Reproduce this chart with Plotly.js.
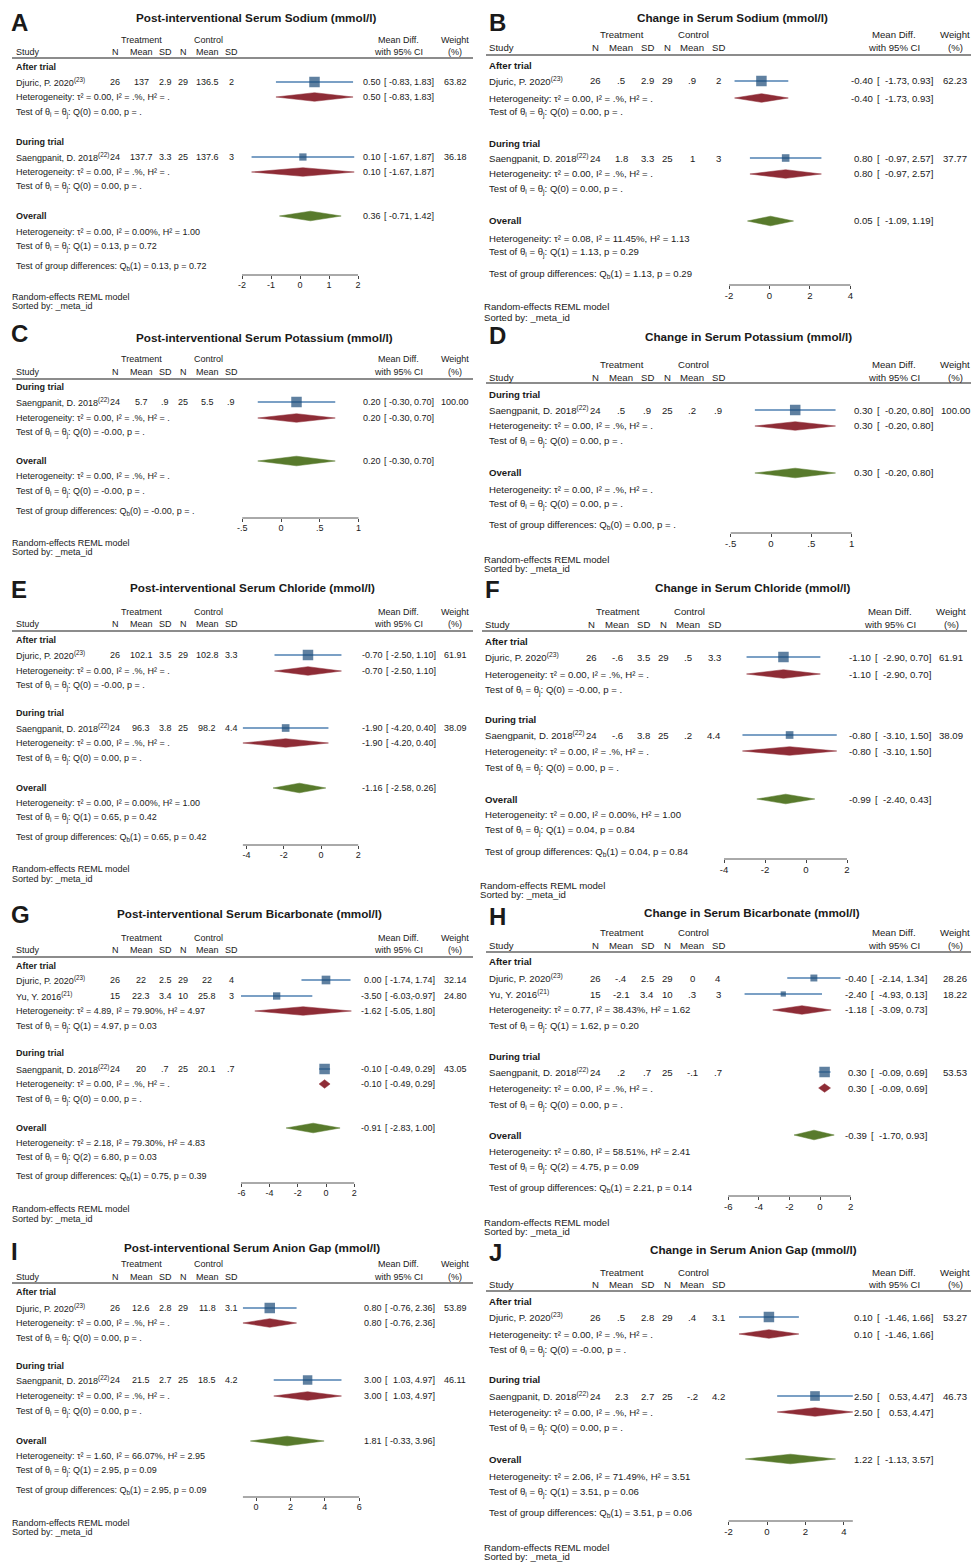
<!DOCTYPE html>
<html><head><meta charset="utf-8">
<script src="https://cdn.plot.ly/plotly-3.0.1.min.js"></script>
<style>html,body{margin:0;padding:0;background:#fff}</style>
</head><body><div id="chart" style="width:973px;height:1564px"></div>
<script>
// ---------------- DATA ----------------
const panelId = ['A','B','C','D','E','F','G','H','I','J'];
const panelTitle = [
  'Post-interventional Serum Sodium (mmol/l)',
  'Change in Serum Sodium (mmol/l)',
  'Post-interventional Serum Potassium (mmol/l)',
  'Change in Serum Potassium (mmol/l)',
  'Post-interventional Serum Chloride (mmol/l)',
  'Change in Serum Chloride (mmol/l)',
  'Post-interventional Serum Bicarbonate (mmol/l)',
  'Change in Serum Bicarbonate (mmol/l)',
  'Post-interventional Serum Anion Gap (mmol/l)',
  'Change in Serum Anion Gap (mmol/l)'
];
const panelTicks = [[-2,-1,0,1,2],[-2,0,2,4],[-0.5,0,0.5,1],[-0.5,0,0.5,1],[-4,-2,0,2],[-4,-2,0,2],[-6,-4,-2,0,2],[-6,-4,-2,0,2],[0,2,4,6],[-2,0,2,4]];

// study rows
const studyPanel = ['A','A','B','B','C','D','E','E','F','F','G','G','G','H','H','H','I','I','J','J'];
const studyGroup = ['After trial','During trial','After trial','During trial','During trial','During trial','After trial','During trial','After trial','During trial','After trial','After trial','During trial','After trial','After trial','During trial','After trial','During trial','After trial','During trial'];
const studyName = ['Djuric, P. 2020','Saengpanit, D. 2018','Djuric, P. 2020','Saengpanit, D. 2018','Saengpanit, D. 2018','Saengpanit, D. 2018','Djuric, P. 2020','Saengpanit, D. 2018','Djuric, P. 2020','Saengpanit, D. 2018','Djuric, P. 2020','Yu, Y. 2016','Saengpanit, D. 2018','Djuric, P. 2020','Yu, Y. 2016','Saengpanit, D. 2018','Djuric, P. 2020','Saengpanit, D. 2018','Djuric, P. 2020','Saengpanit, D. 2018'];
const studyRef = ['23','22','23','22','22','22','23','22','23','22','23','21','22','23','21','22','23','22','23','22'];
const trtN    = [26,24, 26,24, 24, 24, 26,24, 26,24, 26,15,24, 26,15,24, 26,24, 26,24];
const trtMean = [137,137.7, 0.5,1.8, 5.7, 0.5, 102.1,96.3, -0.6,-0.6, 22,22.3,20, -0.4,-2.1,0.2, 12.6,21.5, 0.5,2.3];
const trtSD   = [2.9,3.3, 2.9,3.3, 0.9, 0.9, 3.5,3.8, 3.5,3.8, 2.5,3.4,0.7, 2.5,3.4,0.7, 2.8,2.7, 2.8,2.7];
const ctlN    = [29,25, 29,25, 25, 25, 29,25, 29,25, 29,10,25, 29,10,25, 29,25, 29,25];
const ctlMean = [136.5,137.6, 0.9,1, 5.5, 0.2, 102.8,98.2, 0.5,0.2, 22,25.8,20.1, 0,0.3,-0.1, 11.8,18.5, 0.4,-0.2];
const ctlSD   = [2,3, 2,3, 0.9, 0.9, 3.3,4.4, 3.3,4.4, 4,3,0.7, 4,3,0.7, 3.1,4.2, 3.1,4.2];
const effEst  = [0.50,0.10, -0.40,0.80, 0.20, 0.30, -0.70,-1.90, -1.10,-0.80, 0.00,-3.50,-0.10, -0.40,-2.40,0.30, 0.80,3.00, 0.10,2.50];
const effLo   = [-0.83,-1.67, -1.73,-0.97, -0.30, -0.20, -2.50,-4.20, -2.90,-3.10, -1.74,-6.03,-0.49, -2.14,-4.93,-0.09, -0.76,1.03, -1.46,0.53];
const effHi   = [1.83,1.87, 0.93,2.57, 0.70, 0.80, 1.10,0.40, 0.70,1.50, 1.74,-0.97,0.29, 1.34,0.13,0.69, 2.36,4.97, 1.66,4.47];
const weight  = [63.82,36.18, 62.23,37.77, 100.00, 100.00, 61.91,38.09, 61.91,38.09, 32.14,24.80,43.05, 28.26,18.22,53.53, 53.89,46.11, 53.27,46.73];

// subgroup rows
const grpPanel = ['A','A','B','B','C','D','E','E','F','F','G','G','H','H','I','I','J','J'];
const grpName  = ['After trial','During trial','After trial','During trial','During trial','During trial','After trial','During trial','After trial','During trial','After trial','During trial','After trial','During trial','After trial','During trial','After trial','During trial'];
const grpEst   = [0.50,0.10, -0.40,0.80, 0.20, 0.30, -0.70,-1.90, -1.10,-0.80, -1.62,-0.10, -1.18,0.30, 0.80,3.00, 0.10,2.50];
const grpLo    = [-0.83,-1.67, -1.73,-0.97, -0.30, -0.20, -2.50,-4.20, -2.90,-3.10, -5.05,-0.49, -3.09,-0.09, -0.76,1.03, -1.46,0.53];
const grpHi    = [1.83,1.87, 0.93,2.57, 0.70, 0.80, 1.10,0.40, 0.70,1.50, 1.80,0.29, 0.73,0.69, 2.36,4.97, 1.66,4.47];
const grpTau2  = [0,0, 0,0, 0, 0, 0,0, 0,0, 4.89,0, 0.77,0, 0,0, 0,0];
const grpI2    = [null,null, null,null, null, null, null,null, null,null, 79.90,null, 38.43,null, null,null, null,null];
const grpH2    = [null,null, null,null, null, null, null,null, null,null, 4.97,null, 1.62,null, null,null, null,null];
const grpQdf   = [0,0, 0,0, 0, 0, 0,0, 0,0, 1,0, 1,0, 0,0, 0,0];
const grpQ     = [0,0, 0,0, -0, 0, -0,0, -0,0, 4.97,0, 1.62,0, 0,0, -0,0];
const grpP     = [null,null, null,null, null, null, null,null, null,null, 0.03,null, 0.20,null, null,null, null,null];

// overall rows (one per panel)
const ovEst  = [0.36, 0.05, 0.20, 0.30, -1.16, -0.99, -0.91, -0.39, 1.81, 1.22];
const ovLo   = [-0.71, -1.09, -0.30, -0.20, -2.58, -2.40, -2.83, -1.70, -0.33, -1.13];
const ovHi   = [1.42, 1.19, 0.70, 0.80, 0.26, 0.43, 1.00, 0.93, 3.96, 3.57];
const ovTau2 = [0.00, 0.08, 0.00, 0.00, 0.00, 0.00, 2.18, 0.80, 1.60, 2.06];
const ovI2   = [0.00, 11.45, null, null, 0.00, 0.00, 79.30, 58.51, 66.07, 71.49];
const ovH2   = [1.00, 1.13, null, null, 1.00, 1.00, 4.83, 2.41, 2.95, 3.51];
const ovQdf  = [1, 1, 0, 0, 1, 1, 2, 2, 1, 1];
const ovQ    = [0.13, 1.13, -0, 0, 0.65, 0.04, 6.80, 4.75, 2.95, 3.51];
const ovP    = [0.72, 0.29, null, null, 0.42, 0.84, 0.03, 0.09, 0.09, 0.06];
const gdDf   = [1, 1, 0, 0, 1, 1, 1, 1, 1, 1];
const gdQ    = [0.13, 1.13, -0, 0, 0.65, 0.04, 0.75, 2.21, 2.95, 3.51];
const gdP    = [0.72, 0.29, null, null, 0.42, 0.84, 0.39, 0.14, 0.09, 0.06];

// ---------------- LAYOUT (positions in page pixels) ----------------
const W = 973, H = 1564;
const FONT = '"Liberation Sans", Arial, Helvetica, sans-serif';
const INK = '#1a1a1a';
const SIDE = {
  L:{study:16, n1:115, m1:141, s1:165, n2:183, m2:207, s2:231, trt:141, ctl:208, md:398, wt:455,
     line:[12,473], letter:11, note:12, dom:[222,392], fs:9, ciE:-53, ciB:-50, ciL:-22},
  R:{study:489, n1:595, m1:621, s1:647, n2:667, m2:692, s2:718, trt:622, ctl:693, md:894, wt:955,
     line:[486,971], letter:489, note:484, dom:[702,882], fs:9.6, ciE:-60, ciB:-56, ciL:-23}
};
const POS = {
  A:{side:'L', tx:256, ty:17, ly:23, hdr:[40,52,58], zero:300, ppu:29, ciR:434,
     rows:[67,82,97,113, 142,157,172,187, 216,232,247,267, 275, 297,306]},
  B:{side:'R', tx:732, ty:17, ly:23, hdr:[35,48,55], zero:769.5, ppu:20.2, ciR:933,
     rows:[65,81,98,113, 143,158,174,189, 221,238,253,274, 285, 307,317]},
  C:{side:'L', tx:264, ty:337, ly:334, hdr:[359,372,379], zero:281, ppu:77.5, ciR:434,
     rows:[387,402,418,433, 461,476,492,511, 518, 543,552]},
  D:{side:'R', tx:748, ty:336, ly:335, hdr:[364,377,383], zero:771, ppu:80.7, ciR:933,
     rows:[394,410,426,442, 473,489,504,525, 533, 559,568]},
  E:{side:'L', tx:252, ty:588, ly:589, hdr:[612,624,631], zero:321, ppu:18.6, ciR:436,
     rows:[640,655,671,686, 713,728,743,759, 788,803,818,838, 845, 869,879]},
  F:{side:'R', tx:753, ty:587, ly:589, hdr:[612,624,631], zero:806, ppu:20.5, ciR:931, dx:-4,
     rows:[641,657,674,690, 719,735,751,768, 799,814,830,852, 859, 885,894]},
  G:{side:'L', tx:249, ty:913, ly:914, hdr:[938,950,957], zero:326, ppu:14.1, ciR:435,
     rows:[966,980,996,1011,1027, 1053,1069,1084,1100, 1128,1143,1158,1176, 1183, 1209,1219]},
  H:{side:'R', tx:752, ty:912, ly:916, hdr:[932,945,952], zero:820, ppu:15.3, ciR:927,
     rows:[961,978,994,1010,1026, 1056,1072,1088,1105, 1135,1151,1167,1188, 1196, 1222,1231]},
  I:{side:'L', tx:252, ty:1247, ly:1251, hdr:[1264,1277,1283], zero:256, ppu:17.2, ciR:435,
     rows:[1292,1308,1323,1339, 1366,1380,1396,1412, 1441,1456,1471,1490, 1497, 1523,1532]},
  J:{side:'R', tx:753, ty:1249, ly:1252, hdr:[1272,1284,1291], zero:767, ppu:19.2, ciR:933,
     rows:[1301,1317,1334,1350, 1379,1396,1412,1428, 1459,1476,1492,1513, 1521, 1547,1556]}
};
const COL_SQ = '#1b4a78', COL_CI = '#4f80b2', COL_GRP = '#8e2c36', COL_OV = '#587a2c';

// ---------------- BUILD ----------------
const fmtG = v => String(v).replace(/^(-?)0\./, '$1.');
const fmt2 = v => (Object.is(v, -0) ? '-' : '') + v.toFixed(2);
const hetTxt = (t, i, h) => 'Heterogeneity: τ² = ' + fmt2(t) + ', I² = ' + (i == null ? '.%' : i.toFixed(2) + '%') + ', H² = ' + (h == null ? '.' : h.toFixed(2));
const testTxt = (df, q, p) => 'Test of θ<sub>i</sub> = θ<sub>j</sub>: Q(' + df + ') = ' + fmt2(q) + ', p = ' + (p == null ? '.' : p.toFixed(2));

const annotations = [], shapes = [], traces = [];
const layout = {
  width: W, height: H, margin:{l:0,r:0,t:0,b:0}, showlegend:false,
  paper_bgcolor:'#ffffff', plot_bgcolor:'rgba(0,0,0,0)',
  font:{family:FONT, color:INK},
  xaxis:{domain:[0,1], range:[0,W], visible:false, fixedrange:true},
  yaxis:{domain:[0,1], range:[H,0], visible:false, fixedrange:true},
  annotations, shapes
};

panelId.forEach((id, k) => {
  const P = POS[id], S = SIDE[P.side], fs = S.fs, dx = P.dx || 0;
  const X = v => v + dx;
  const axName = 'xaxis' + (k + 2), axRef = 'x' + (k + 2);
  const txt = (x, y, t, anchor, size) => annotations.push({
    xref:'paper', yref:'paper', x:x / W, y:1 - y / H, text:t, showarrow:false,
    xanchor:anchor, yanchor:'middle', borderpad:0, borderwidth:0,
    font:{family:FONT, size:size || fs, color:INK}
  });
  const ciText = (y, e, lo, hi) => {
    const R = P.ciR;
    txt(R + S.ciE, y, fmt2(e), 'right');
    txt(R + S.ciB, y, '[', 'left');
    txt(R + S.ciL, y, fmt2(lo) + ',', 'right');
    txt(R, y, fmt2(hi) + ']', 'right');
  };

  // letter + title
  txt(S.letter + dx, P.ly, '<b>' + id + '</b>', 'left', 24);
  txt(P.tx, P.ty, '<b>' + panelTitle[k] + '</b>', 'center', 11.7);
  // header
  txt(X(S.trt), P.hdr[0], 'Treatment', 'center');
  txt(X(S.ctl), P.hdr[0], 'Control', 'center');
  txt(X(S.md), P.hdr[0], 'Mean Diff.', 'center');
  txt(X(S.wt), P.hdr[0], 'Weight', 'center');
  txt(X(S.study), P.hdr[1], 'Study', 'left');
  [['n1','N'],['m1','Mean'],['s1','SD'],['n2','N'],['m2','Mean'],['s2','SD']].forEach(([c, t]) => txt(X(S[c]), P.hdr[1], t, 'center'));
  txt(X(S.md), P.hdr[1], 'with 95% CI', 'center');
  txt(X(S.wt), P.hdr[1], '(%)', 'center');
  shapes.push({type:'line', xref:'paper', yref:'paper', x0:X(S.line[0]) / W, x1:X(S.line[1]) / W,
    y0:1 - P.hdr[2] / H, y1:1 - P.hdr[2] / H, line:{color:'#666', width:1.5}});

  const sIdx = studyPanel.map((p, i) => p === id ? i : -1).filter(i => i >= 0);
  const wmax = Math.max(...sIdx.map(i => weight[i]));
  const ciX = [], ciY = [], sqX = [], sqY = [], sqS = [], gX = [], gY = [], oX = [], oY = [];
  const dia = (ax, ay, lo, e, hi, y, h) => { ax.push(lo, e, hi, e, lo, null); ay.push(y, y - h, y, y + h, y, null); };
  let r = 0;
  const rows = P.rows;
  grpPanel.forEach((gp, g) => {
    if (gp !== id) return;
    txt(X(S.study), rows[r++], '<b>' + grpName[g] + '</b>', 'left');
    sIdx.filter(i => studyGroup[i] === grpName[g]).forEach(i => {
      const y = rows[r++];
      txt(X(S.study), y, studyName[i] + '<sup>(' + studyRef[i] + ')</sup>', 'left');
      txt(X(S.n1), y, fmtG(trtN[i]), 'center');
      txt(X(S.m1), y, fmtG(trtMean[i]), 'center');
      txt(X(S.s1), y, fmtG(trtSD[i]), 'center');
      txt(X(S.n2), y, fmtG(ctlN[i]), 'center');
      txt(X(S.m2), y, fmtG(ctlMean[i]), 'center');
      txt(X(S.s2), y, fmtG(ctlSD[i]), 'center');
      ciText(y, effEst[i], effLo[i], effHi[i]);
      txt(X(S.wt), y, weight[i].toFixed(2), 'center');
      ciX.push(effLo[i], effHi[i], null); ciY.push(y, y, null);
      sqX.push(effEst[i]); sqY.push(y); sqS.push(10.5 * Math.pow(weight[i] / wmax, 0.65));
    });
    const yh = rows[r++];
    txt(X(S.study), yh, hetTxt(grpTau2[g], grpI2[g], grpH2[g]), 'left');
    ciText(yh, grpEst[g], grpLo[g], grpHi[g]);
    dia(gX, gY, grpLo[g], grpEst[g], grpHi[g], yh, 4.3);
    txt(X(S.study), rows[r++], testTxt(grpQdf[g], grpQ[g], grpP[g]), 'left');
  });
  const yo = rows[r++];
  txt(X(S.study), yo, '<b>Overall</b>', 'left');
  ciText(yo, ovEst[k], ovLo[k], ovHi[k]);
  dia(oX, oY, ovLo[k], ovEst[k], ovHi[k], yo, 4.8);
  txt(X(S.study), rows[r++], hetTxt(ovTau2[k], ovI2[k], ovH2[k]), 'left');
  txt(X(S.study), rows[r++], testTxt(ovQdf[k], ovQ[k], ovP[k]), 'left');
  txt(X(S.study), rows[r++], 'Test of group differences: Q<sub>b</sub>(' + gdDf[k] + ') = ' + fmt2(gdQ[k]) + ', p = ' + (gdP[k] == null ? '.' : gdP[k].toFixed(2)), 'left');
  const axisY = rows[r++];
  txt(S.note + dx, rows[r++], 'Random-effects REML model', 'left');
  txt(S.note + dx, rows[r++], 'Sorted by: _meta_id', 'left');

  // axis for this panel
  const ticks = panelTicks[k];
  layout[axName] = {
    domain:[S.dom[0] / W, S.dom[1] / W],
    range:[(S.dom[0] - P.zero) / P.ppu, (S.dom[1] - P.zero) / P.ppu],
    anchor:'free', position:1 - axisY / H, side:'bottom',
    showline:false, showgrid:false, zeroline:false,
    ticks:'outside', ticklen:3, tickwidth:1, tickcolor:'#444', ticklabelstandoff:-2,
    tickmode:'array', tickvals:ticks, ticktext:ticks.map(fmtG),
    tickfont:{family:FONT, size:fs, color:INK}, fixedrange:true
  };
  const aLo = Math.min(ticks[0], ...sIdx.map(i => effLo[i]));
  const aHi = Math.max(ticks[ticks.length - 1], ...sIdx.map(i => effHi[i]));
  shapes.push({type:'line', xref:axRef, yref:'paper', x0:aLo, x1:aHi, y0:1 - axisY / H, y1:1 - axisY / H,
    line:{color:'#555', width:1}});

  const base = {xaxis:axRef, yaxis:'y', hoverinfo:'skip', showlegend:false};
  traces.push(Object.assign({}, base, {type:'scatter', mode:'lines', x:ciX, y:ciY, line:{color:COL_CI, width:1.3}}));
  traces.push(Object.assign({}, base, {type:'scatter', mode:'lines', x:gX, y:gY, fill:'toself', fillcolor:COL_GRP, line:{color:COL_GRP, width:0.5}}));
  traces.push(Object.assign({}, base, {type:'scatter', mode:'lines', x:oX, y:oY, fill:'toself', fillcolor:COL_OV, line:{color:COL_OV, width:0.5}}));
  traces.push(Object.assign({}, base, {type:'scatter', mode:'markers', x:sqX, y:sqY, cliponaxis:false,
    marker:{symbol:'square', size:sqS, color:COL_SQ, line:{width:0}}}));
});

Plotly.newPlot('chart', traces, layout, {staticPlot:true, displayModeBar:false});
</script></body></html>
